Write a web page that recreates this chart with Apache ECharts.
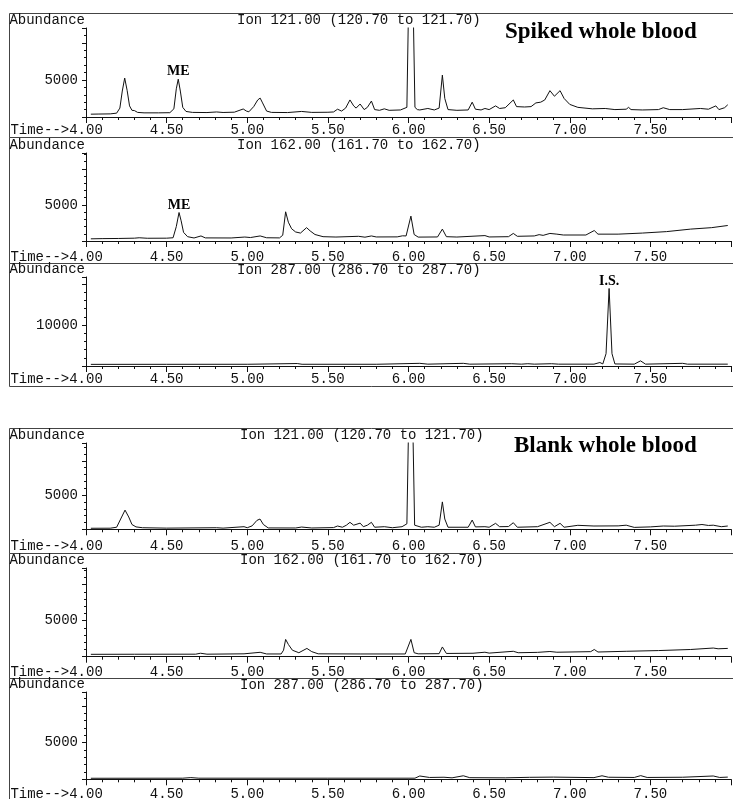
<!DOCTYPE html>
<html><head><meta charset="utf-8">
<script src="https://cdn.jsdelivr.net/npm/echarts@6/dist/echarts.min.js"></script>
<style>html,body{margin:0;padding:0;background:#fff}#c{width:733px;height:799px}</style>
</head><body><div id="c"></div>
<script>
// ---- data (time in min, abundance) ----
const spiked121 = [[4.03,380],[4.08,400],[4.15,420],[4.19,520],[4.21,1200],[4.225,3500],[4.24,5250],[4.255,3600],[4.27,1500],[4.285,900],[4.30,870],[4.32,620],[4.36,560],[4.45,560],[4.52,580],[4.545,1100],[4.56,3800],[4.572,5100],[4.585,3500],[4.60,1300],[4.62,750],[4.66,620],[4.75,600],[4.81,680],[4.85,610],[4.92,650],[4.975,1080],[4.995,800],[5.01,700],[5.04,1400],[5.065,2300],[5.08,2550],[5.095,1900],[5.12,800],[5.15,620],[5.25,600],[5.337,750],[5.40,620],[5.50,640],[5.535,680],[5.56,1050],[5.585,800],[5.61,1200],[5.637,2300],[5.66,1500],[5.675,1200],[5.70,1750],[5.725,1000],[5.745,1300],[5.77,2150],[5.79,1000],[5.82,900],[5.85,1100],[5.88,900],[5.95,950],[5.99,1300],[6.004,20000],[6.025,20000],[6.04,1300],[6.055,1000],[6.07,950],[6.12,1150],[6.16,950],[6.19,1200],[6.21,5650],[6.225,2500],[6.245,1000],[6.30,900],[6.37,950],[6.395,2000],[6.415,1050],[6.45,950],[6.474,1150],[6.50,1000],[6.54,1500],[6.565,1150],[6.60,1250],[6.65,2300],[6.67,1400],[6.72,1350],[6.76,1400],[6.79,1900],[6.82,2000],[6.845,2300],[6.877,3550],[6.905,2800],[6.94,3550],[6.965,2500],[7.00,1700],[7.05,1300],[7.14,1100],[7.22,1150],[7.28,1000],[7.35,1050],[7.365,1300],[7.38,1000],[7.45,950],[7.55,1000],[7.58,1250],[7.62,1000],[7.70,1000],[7.81,1150],[7.86,1050],[7.906,1500],[7.925,1000],[7.96,1250],[7.98,1650]];
const spiked162 = [[4.03,300],[4.10,330],[4.20,350],[4.30,390],[4.33,450],[4.38,380],[4.50,390],[4.54,450],[4.56,2000],[4.577,3950],[4.59,2800],[4.605,1200],[4.63,600],[4.67,420],[4.713,700],[4.74,430],[4.90,420],[4.985,550],[5.02,480],[5.08,700],[5.12,450],[5.20,430],[5.22,800],[5.238,4050],[5.255,2600],[5.275,1700],[5.30,1250],[5.33,1100],[5.368,1850],[5.39,1400],[5.42,900],[5.47,600],[5.55,550],[5.69,650],[5.73,530],[5.77,700],[5.80,560],[5.93,570],[5.963,720],[5.985,700],[6.015,3450],[6.035,900],[6.06,540],[6.18,560],[6.21,1650],[6.235,600],[6.30,550],[6.474,750],[6.50,560],[6.62,600],[6.65,1050],[6.675,650],[6.78,700],[6.81,880],[6.835,780],[6.877,1050],[6.92,950],[6.96,830],[7.10,830],[7.152,1450],[7.175,950],[7.30,950],[7.45,1100],[7.60,1300],[7.75,1650],[7.88,1850],[7.98,2150]];
const spiked287 = [[4.03,400],[4.50,410],[5.00,420],[5.31,600],[5.34,420],[5.80,420],[6.07,650],[6.12,450],[6.34,650],[6.38,450],[6.64,560],[6.70,450],[6.74,560],[6.78,450],[6.887,560],[6.93,450],[7.15,450],[7.187,850],[7.205,500],[7.225,3000],[7.244,18900],[7.262,3000],[7.28,500],[7.40,450],[7.439,1250],[7.47,450],[7.70,650],[7.73,450],[7.98,450]];
const blank121 = [[4.03,150],[4.15,160],[4.19,300],[4.215,1500],[4.242,2800],[4.265,1800],[4.285,700],[4.31,350],[4.35,230],[4.50,170],[4.81,230],[4.85,170],[4.98,380],[5.00,230],[5.03,500],[5.06,1300],[5.079,1500],[5.10,700],[5.13,200],[5.30,190],[5.337,330],[5.40,190],[5.535,250],[5.56,480],[5.59,300],[5.615,600],[5.637,1020],[5.66,600],[5.70,900],[5.72,380],[5.745,600],[5.77,1020],[5.79,300],[5.85,380],[5.90,230],[5.96,380],[5.99,800],[6.004,20000],[6.023,20000],[6.038,600],[6.05,480],[6.08,300],[6.12,380],[6.16,300],[6.19,600],[6.21,4000],[6.225,1500],[6.245,300],[6.37,300],[6.395,1350],[6.415,350],[6.474,380],[6.50,300],[6.54,870],[6.565,380],[6.62,400],[6.65,960],[6.675,300],[6.80,380],[6.877,1020],[6.905,380],[6.94,870],[6.965,300],[7.05,580],[7.15,480],[7.30,500],[7.35,600],[7.40,280],[7.50,350],[7.58,480],[7.65,450],[7.78,600],[7.82,700],[7.86,560],[7.89,600],[7.94,380],[7.98,480]];
const blank162 = [[4.03,330],[4.30,340],[4.68,350],[4.71,480],[4.75,350],[4.98,400],[5.08,610],[5.12,380],[5.21,380],[5.225,900],[5.238,2400],[5.255,1700],[5.28,900],[5.32,550],[5.37,1150],[5.40,700],[5.44,400],[5.70,380],[5.98,380],[6.015,2400],[6.035,550],[6.06,400],[6.19,420],[6.21,1350],[6.235,450],[6.40,480],[6.474,620],[6.50,500],[6.65,750],[6.68,550],[6.80,600],[6.877,720],[6.92,620],[7.13,700],[7.152,1000],[7.175,650],[7.35,750],[7.55,850],[7.75,1000],[7.89,1200],[7.92,1100],[7.98,1150]];
const blank287 = [[4.03,140],[4.60,150],[4.65,230],[4.70,150],[5.50,150],[6.04,150],[6.07,450],[6.13,250],[6.22,280],[6.27,200],[6.34,480],[6.38,220],[6.60,200],[6.75,270],[6.90,300],[7.15,230],[7.20,480],[7.24,280],[7.40,250],[7.44,500],[7.48,250],[7.70,280],[7.89,450],[7.93,250],[7.98,300]];

const ionLabels = ['Ion 121.00 (120.70 to 121.70)','Ion 162.00 (161.70 to 162.70)','Ion 287.00 (286.70 to 287.70)','Ion 121.00 (120.70 to 121.70)','Ion 162.00 (161.70 to 162.70)','Ion 287.00 (286.70 to 287.70)'];
const sampleLabels = ['Spiked whole blood','Blank whole blood'];
const yMaxes = [12000, 12200, 21700, 12600, 12300, 11900];
const yLabelTicks = [5000, 5000, 10000, 5000, 5000, 5000];
const yIntervals = [5000, 5000, 10000, 5000, 5000, 5000];
const peakMarks = [[{name:'ME', coord:[4.572,5100]}],[{name:'ME', coord:[4.577,3950]}],[{name:'I.S.', coord:[7.244,18900]}],[],[],[]];
const traces = [spiked121, spiked162, spiked287, blank121, blank162, blank287];

// ---- layout ----
const layout = [
  {top:28,  bottom:117,   box:[13,137],  ionX:237, ionY:13.5, lm:6},
  {top:153, bottom:241,   box:[137,263], ionX:237, ionY:138,  lm:9},
  {top:277, bottom:366,   box:[263,386], ionX:237, ionY:263,  lm:6},
  {top:443, bottom:529.3, box:[428,553], ionX:240, ionY:428,  lm:10},
  {top:568, bottom:656.7, box:[553,678], ionX:240, ionY:553,  lm:9},
  {top:692, bottom:779.3, box:[678,801], ionX:240, ionY:678,  lm:8}
];
const mono = '"Courier New","Liberation Mono","DejaVu Sans Mono",monospace';
const serif = '"Times New Roman","Liberation Serif","DejaVu Serif",serif';
const ink = '#111';

const option = {
  animation:false,
  backgroundColor:'#fff',
  grid: layout.map(l => ({left:86, right:2, top:l.top, height:l.bottom-l.top, containLabel:false, outerBoundsMode:'none'})),
  xAxis: layout.map((l,i) => ({
    type:'value', gridIndex:i, min:4, max:8, interval:0.5,
    axisLine:{show:true, lineStyle:{color:ink, width:1}},
    axisTick:{show:true, length:6, lineStyle:{color:ink}},
    minorTick:{show:true, splitNumber:5, length:3, lineStyle:{color:ink}},
    splitLine:{show:false},
    axisLabel:{margin:l.lm, fontFamily:mono, fontSize:14, color:ink,
      formatter: v => v > 7.99 ? '' : v.toFixed(2)},
    name:'Time-->', nameLocation:'start', nameGap:16.8, nameMoveOverlap:false,
    nameTextStyle:{fontFamily:mono, fontSize:14, color:ink, align:'right', verticalAlign:'top', padding:[l.lm,0,0,0]}
  })),
  yAxis: layout.map((l,i) => ({
    type:'value', gridIndex:i, min:0, max:yMaxes[i], interval:yIntervals[i],
    axisLine:{show:true, lineStyle:{color:ink, width:1}},
    axisTick:{show:true, length:4, lineStyle:{color:ink}},
    minorTick:{show:true, splitNumber:5, length:2, lineStyle:{color:ink}},
    splitLine:{show:false},
    axisLabel:{margin:8, fontFamily:mono, fontSize:14, color:ink,
      formatter: v => v === yLabelTicks[i] ? String(v) : ''},
    name:'Abundance', nameLocation:'end', nameGap:7.5, nameMoveOverlap:false,
    nameTextStyle:{fontFamily:mono, fontSize:14, color:ink, align:'right', verticalAlign:'middle', padding:[0,1,0,0]}
  })),
  title: [
    ...layout.map((l,i) => ({text:ionLabels[i], left:l.ionX, top:l.ionY, padding:0,
      textStyle:{fontFamily:mono, fontSize:14, fontWeight:'normal', color:ink}})),
    {text:sampleLabels[0], left:505, top:20.5, padding:0, textStyle:{fontFamily:serif, fontSize:23, fontWeight:'bold', color:'#000'}},
    {text:sampleLabels[1], left:514, top:435, padding:0, textStyle:{fontFamily:serif, fontSize:23, fontWeight:'bold', color:'#000'}}
  ],
  graphic: layout.map(l => ({type:'rect', silent:true,
    shape:{x:9.5, y:l.box[0]+0.5, width:740, height:l.box[1]-l.box[0]},
    style:{fill:'none', stroke:'#444', lineWidth:1}})),
  series: traces.map((d,i) => ({
    type:'line', xAxisIndex:i, yAxisIndex:i, data:d, symbol:'none', showSymbol:false,
    lineStyle:{color:ink, width:1}, clip:true,
    markPoint: {
      symbol:'circle', symbolSize:1, itemStyle:{color:'rgba(0,0,0,0)'},
      label:{show:true, position:'top', distance:0, formatter:p=>p.name,
        fontFamily:serif, fontWeight:'bold', fontSize:14, color:'#000'},
      data: peakMarks[i]
    }
  }))
};
const chart = echarts.init(document.getElementById('c'), null, {renderer:'canvas'});
chart.setOption(option);
</script></body></html>
